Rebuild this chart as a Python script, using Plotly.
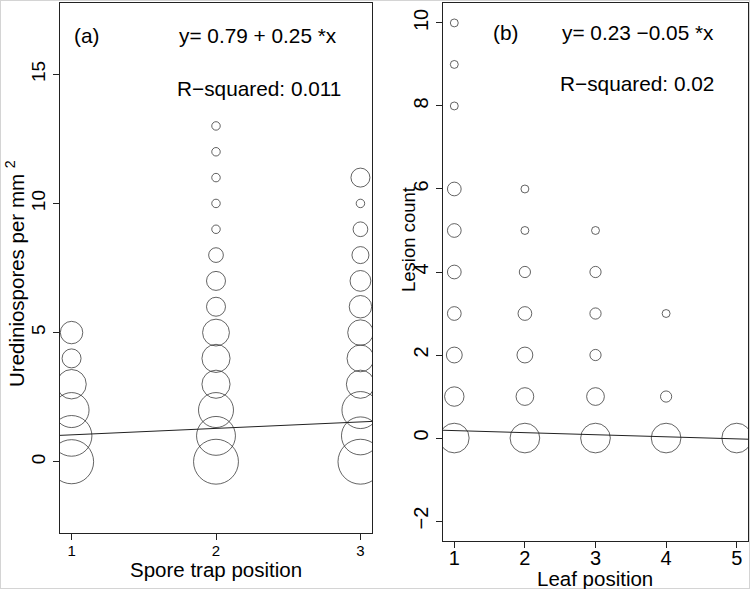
import plotly.graph_objects as go

# ---------------- data ----------------
# Panel (a): spore trap position vs urediniospores per mm^2, circle area ~ frequency
a_x = [1]*6 + [2]*14 + [3]*12
a_y = [0, 1, 2, 3, 4, 5,
       0, 1, 2, 3, 4, 5, 6, 7, 8, 9, 10, 11, 12, 13,
       0, 1, 2, 3, 4, 5, 6, 7, 8, 9, 10, 11]
a_n = [27, 23, 17, 12, 5, 7,
       28, 21, 17, 11, 11, 10, 5, 5, 3, 1, 1, 1, 1, 1,
       28, 20, 19, 11, 10, 9, 7, 6, 4, 3, 1, 5]
a_intercept, a_slope = 0.79, 0.25

# Panel (b): leaf position vs lesion count
b_x = [1]*10 + [2]*7 + [3]*6 + [4]*3 + [5]
b_y = [0, 1, 2, 3, 4, 5, 6, 8, 9, 10,
       0, 1, 2, 3, 4, 5, 6,
       0, 1, 2, 3, 4, 5,
       0, 1, 3,
       0]
b_n = [14, 6, 4, 3, 3, 3, 3, 1, 1, 1,
       14, 5, 4, 3, 2, 1, 1,
       14, 5, 2, 2, 2, 1,
       14, 2, 1,
       14]
b_intercept, b_slope = 0.23, -0.05

a_xrange = [0.92, 3.08]
a_yrange = [-2.76, 17.76]
b_xrange = [0.84, 5.16]
b_yrange = [-2.48, 10.48]

W, H = 750, 589
FONT = "Liberation Sans, Arial, sans-serif"
INK = "#222222"

fig = go.Figure()

fig.add_trace(go.Scatter(
    x=a_x, y=a_y, mode="markers", xaxis="x", yaxis="y",
    marker=dict(symbol="circle-open", size=a_n, sizemode="area", sizeref=1/36.0,
                color=INK, line=dict(width=1, color=INK)),
    showlegend=False, hoverinfo="x+y"))
fig.add_trace(go.Scatter(
    x=a_xrange, y=[a_intercept + a_slope*v for v in a_xrange],
    mode="lines", xaxis="x", yaxis="y",
    line=dict(color=INK, width=1), showlegend=False))

fig.add_trace(go.Scatter(
    x=b_x, y=b_y, mode="markers", xaxis="x2", yaxis="y2",
    marker=dict(symbol="circle-open", size=b_n, sizemode="area", sizeref=1/31.4,
                color=INK, line=dict(width=1, color=INK)),
    showlegend=False, hoverinfo="x+y"))
fig.add_trace(go.Scatter(
    x=b_xrange, y=[b_intercept + b_slope*v for v in b_xrange],
    mode="lines", xaxis="x2", yaxis="y2",
    line=dict(color=INK, width=1), showlegend=False))

axis_common = dict(showline=True, mirror=True, linecolor=INK, linewidth=1,
                   showgrid=False, zeroline=False, ticks="outside",
                   tickcolor=INK, ticklen=6, tickwidth=1)

fig.update_layout(
    width=W, height=H,
    margin=dict(l=0, r=0, t=0, b=0, autoexpand=False),
    paper_bgcolor="white", plot_bgcolor="white",
    font=dict(family=FONT, color="black"),
    xaxis=dict(domain=[60/W, 372/W], range=a_xrange, tickvals=[1, 2, 3],
               tickfont=dict(size=15), ticklabelstandoff=-2, anchor="y",
               **axis_common),
    yaxis=dict(domain=[1-533/H, 1-3/H], range=a_yrange, tickvals=[0, 5, 10, 15],
               tickangle=-90, tickfont=dict(size=19), anchor="x", **axis_common),
    xaxis2=dict(domain=[443/W, 748/W], range=b_xrange, tickvals=[1, 2, 3, 4, 5],
                tickfont=dict(size=20), ticklabelstandoff=-7, anchor="y2",
                **axis_common),
    yaxis2=dict(domain=[1-541/H, 1-3/H], range=b_yrange,
                tickvals=[-2, 0, 2, 4, 6, 8, 10],
                tickangle=-90, tickfont=dict(size=20), anchor="x2", **axis_common),
)

ann_font = dict(family=FONT, size=20.8, color="black")
fig.add_annotation(x=1.10, y=16.49, xref="x", yref="y", text="(a)",
                   showarrow=False, font=ann_font)
fig.add_annotation(x=2.29, y=16.49, xref="x", yref="y", text="y= 0.79 + 0.25 *x",
                   showarrow=False, font=ann_font)
fig.add_annotation(x=2.30, y=14.44, xref="x", yref="y", text="R\u2212squared: 0.011",
                   showarrow=False, font=ann_font)
fig.add_annotation(x=1.72, y=9.76, xref="x2", yref="y2", text="(b)",
                   showarrow=False, font=ann_font)
fig.add_annotation(x=3.60, y=9.76, xref="x2", yref="y2", text="y= 0.23 \u22120.05 *x",
                   showarrow=False, font=ann_font)
fig.add_annotation(x=3.59, y=8.55, xref="x2", yref="y2", text="R\u2212squared: 0.02",
                   showarrow=False, font=ann_font)

title_font = dict(family=FONT, size=20.5, color="black")
fig.add_annotation(x=216/W, y=1-569/H, xref="paper", yref="paper",
                   text="Spore trap position", showarrow=False, font=title_font,
                   xanchor="center", yanchor="middle")
fig.add_annotation(x=595/W, y=1-578/H, xref="paper", yref="paper",
                   text="Leaf position", showarrow=False, font=title_font,
                   xanchor="center", yanchor="middle")
fig.add_annotation(x=15/W, y=1-274/H, xref="paper", yref="paper",
                   text="Urediniospores per mm <sup>2</sup>", textangle=-90,
                   showarrow=False, font=title_font,
                   xanchor="center", yanchor="middle")
fig.add_annotation(x=408/W, y=1-240/H, xref="paper", yref="paper",
                   text="Lesion count", textangle=-90,
                   showarrow=False, font=dict(family=FONT, size=18.5, color="black"),
                   xanchor="center", yanchor="middle")

fig.add_shape(type="rect", xref="paper", yref="paper", x0=0, y0=0, x1=1, y1=1,
              line=dict(color="#d4d4d4", width=2), layer="above")

fig.write_html("out.html", config={"displayModeBar": False},
               post_script="document.body.style.margin='0';")
